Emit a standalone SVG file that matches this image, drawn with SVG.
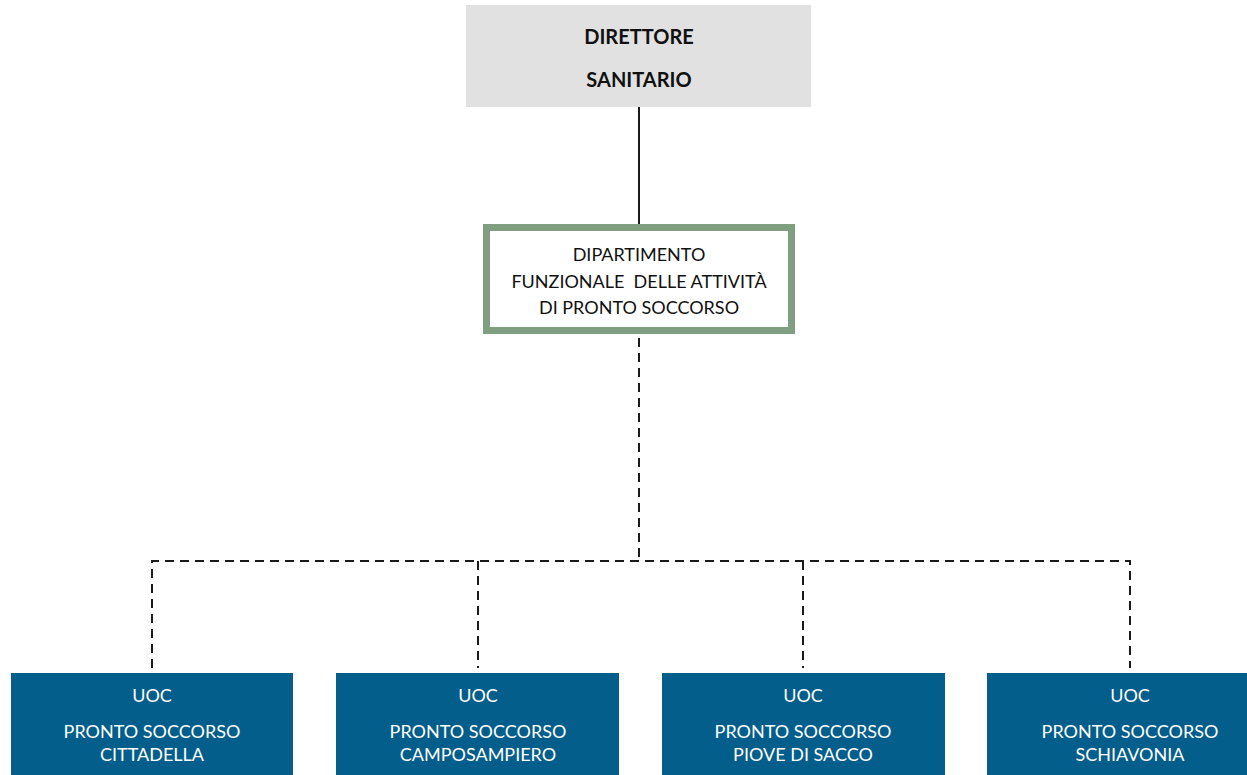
<svg xmlns="http://www.w3.org/2000/svg" width="1247" height="775" viewBox="0 0 1247 775">
  <style>
    .lbl { font-family: Lato, "Open Sans", "Liberation Sans", sans-serif; font-size: 18px; text-anchor: middle; }
    .dark { fill: #111111; }
    .white { fill: #ffffff; }
    .bold { font-weight: bold; font-size: 20px; }
    .unit { fill: #035e8b; }
    .link { stroke: #1a1a1a; stroke-width: 2; fill: none; }
    .dash { stroke-dasharray: 9 6; }
  </style>
  <rect width="1247" height="775" fill="#ffffff"/>

  <g id="connectors">
    <line class="link" x1="639" y1="107" x2="639" y2="224"/>
    <line class="link dash" x1="639" y1="338" x2="639" y2="561"/>
    <polyline class="link dash" points="152,668 152,561 1130,561 1130,668"/>
    <line class="link dash" x1="478" y1="561" x2="478" y2="668"/>
    <line class="link dash" x1="803" y1="561" x2="803" y2="668"/>
  </g>

  <g id="direttore">
    <rect x="466" y="5" width="345" height="102" fill="#e1e1e1"/>
    <text class="lbl dark bold" x="639" y="44">DIRETTORE</text>
    <text class="lbl dark bold" x="639" y="87">SANITARIO</text>
  </g>

  <g id="dipartimento">
    <rect x="486.5" y="227.5" width="305" height="103" fill="#ffffff" stroke="#7f9f80" stroke-width="7"/>
    <text class="lbl dark" x="639" y="261">DIPARTIMENTO</text>
    <text class="lbl dark" x="639" y="288" xml:space="preserve">FUNZIONALE  DELLE ATTIVITÀ</text>
    <text class="lbl dark" x="639" y="314">DI PRONTO SOCCORSO</text>
  </g>

  <g id="ps-cittadella">
    <rect class="unit" x="11" y="673" width="282" height="105"/>
    <text class="lbl white" x="152" y="702">UOC</text>
    <text class="lbl white" x="152" y="738">PRONTO SOCCORSO</text>
    <text class="lbl white" x="152" y="761">CITTADELLA</text>
  </g>

  <g id="ps-camposampiero">
    <rect class="unit" x="336" y="673" width="283" height="105"/>
    <text class="lbl white" x="478" y="702">UOC</text>
    <text class="lbl white" x="478" y="738">PRONTO SOCCORSO</text>
    <text class="lbl white" x="478" y="761">CAMPOSAMPIERO</text>
  </g>

  <g id="ps-piove-di-sacco">
    <rect class="unit" x="662" y="673" width="283" height="105"/>
    <text class="lbl white" x="803" y="702">UOC</text>
    <text class="lbl white" x="803" y="738">PRONTO SOCCORSO</text>
    <text class="lbl white" x="803" y="761">PIOVE DI SACCO</text>
  </g>

  <g id="ps-schiavonia">
    <rect class="unit" x="987" y="673" width="265" height="105"/>
    <text class="lbl white" x="1130" y="702">UOC</text>
    <text class="lbl white" x="1130" y="738">PRONTO SOCCORSO</text>
    <text class="lbl white" x="1130" y="761">SCHIAVONIA</text>
  </g>
</svg>
